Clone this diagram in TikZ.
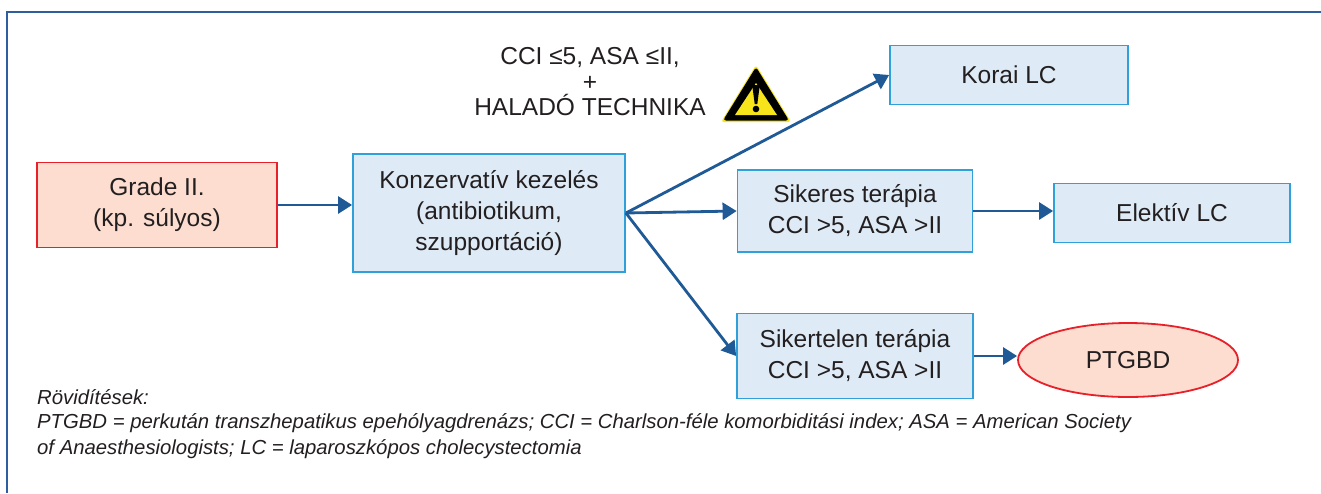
\documentclass[tikz,border=0pt]{standalone}
\usepackage{fontspec}
\setmainfont{Liberation Sans}
\usetikzlibrary{arrows.meta,shapes.geometric}
\definecolor{txt}{HTML}{231F20}
\definecolor{bfill}{HTML}{DEEBF6}
\definecolor{bline}{HTML}{2FA0D9}
\definecolor{rfill}{HTML}{FCDDD0}
\definecolor{rline}{HTML}{E8202A}
\definecolor{arr}{HTML}{1F5A96}
\definecolor{frame}{HTML}{2E5E9E}
\definecolor{warny}{HTML}{F7E41A}
\tikzset{
  box/.style={draw=bline, fill=bfill, line width=1.8pt, inner sep=0pt, align=center,
    font=\fontsize{24.5}{31}\selectfont, text=txt},
  redbox/.style={box, draw=rline, fill=rfill},
  conn/.style={draw=arr, line width=2.8pt, -{Triangle[length=14pt,width=17pt]}},
  lbl/.style={inner sep=0pt, align=center, font=\fontsize{24.5}{25.5}\selectfont, text=txt},
  foot/.style={inner sep=0pt, anchor=west, font=\itshape\fontsize{20.3}{24}\selectfont, text=txt}
}
\begin{document}
\begin{tikzpicture}[x=1pt,y=-1pt]
\useasboundingbox (0,0) rectangle (1321,493);
\fill[white] (0,0) rectangle (1321,493);
% frame
\draw[frame, line width=1.3pt] (7,493) -- (7,12) -- (1321,12);
% nodes
\node[redbox, minimum width=240pt, minimum height=85pt] (grade) at (157,205) {Grade II.\\(kp. súlyos)};
\node[box, minimum width=272pt, minimum height=118pt] (kons) at (489,213) {Konzervatív kezelés\\(antibiotikum,\\szupportáció)};
\node[box, minimum width=238pt, minimum height=59pt] (korai) at (1009,75) {Korai LC};
\node[box, minimum width=235pt, minimum height=82pt] (siker) at (855,211) {Sikeres terápia\\CCI >5, ASA >II};
\node[box, minimum width=236pt, minimum height=59pt] (elektiv) at (1172,213) {Elektív LC};
\node[box, minimum width=236pt, minimum height=85pt] (sikertelen) at (855,356) {Sikertelen terápia\\CCI >5, ASA >II};
\node[redbox, ellipse, minimum width=220pt, minimum height=74pt] (ptgbd) at (1128,360) {PTGBD};
% condition label
\node[lbl] (cond) at (590,82) {CCI ≤5, ASA ≤II,\\+\\HALADÓ TECHNIKA};
% warning sign
\begin{scope}[shift={(756,95)}]
  \fill[warny, rounded corners=3pt] (0,-30) -- (35,27) -- (-35,27) -- cycle;
  \fill[black, rounded corners=3pt] (0,-28) -- (33,25.5) -- (-33,25.5) -- cycle;
  \fill[warny] (0,-12) -- (21,20) -- (-21,20) -- cycle;
  \fill[black] (-3.8,-10) -- (3.8,-10) -- (1.3,9) -- (-1.3,9) -- cycle;
  \fill[black] (0,14) circle (3.3pt);
\end{scope}
% connectors
\draw[conn] (grade.east) -- (kons.west |- grade.east);
\draw[conn] (kons.east) -- (korai.west);
\draw[conn] (kons.east) -- (siker.west);
\draw[conn] (kons.east) -- (sikertelen.west);
\draw[conn] (siker.east) -- (elektiv.west |- siker.east);
\draw[conn] (sikertelen.east) -- (ptgbd.west |- sikertelen.east);
% footer
\node[foot] (f1) at (37,397) {Rövidítések:};
\node[foot] (f2) at (37,423) {PTGBD = perkután transzhepatikus epehólyagdrenázs; CCI = Charlson-féle komorbiditási index; ASA = American Society};
\node[foot] (f3) at (37,449) {of Anaesthesiologists; LC = laparoszkópos cholecystectomia};
\end{tikzpicture}
\end{document}
